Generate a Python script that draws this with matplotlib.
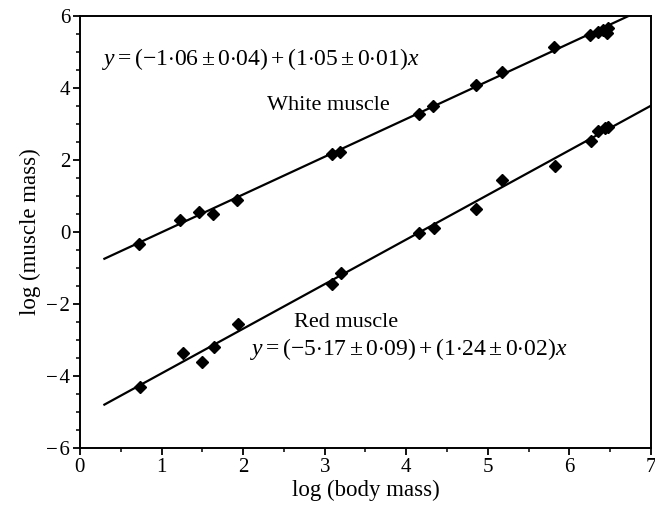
import matplotlib
matplotlib.use("Agg")
import matplotlib.pyplot as plt
import numpy as np

plt.rcParams['font.family'] = ['Liberation Serif', 'DejaVu Serif']
plt.rcParams['mathtext.fontset'] = 'custom'
plt.rcParams['mathtext.rm'] = 'Liberation Serif'
plt.rcParams['mathtext.it'] = 'Liberation Serif:italic'

# white muscle points (log body mass, log muscle mass)
white_x = [0.72, 1.23, 1.46, 1.63, 1.92, 3.09, 3.19, 4.15, 4.33, 4.85, 5.17, 5.81, 6.25, 6.35, 6.41, 6.47, 6.46]
white_y = [-0.33, 0.33, 0.56, 0.50, 0.89, 2.17, 2.22, 3.28, 3.50, 4.08, 4.44, 5.14, 5.47, 5.56, 5.61, 5.67, 5.53]

# red muscle points
red_x = [0.74, 1.26, 1.50, 1.64, 1.94, 3.09, 3.20, 4.15, 4.34, 4.85, 5.17, 5.82, 6.26, 6.35, 6.43, 6.47]
red_y = [-4.30, -3.36, -3.61, -3.19, -2.56, -1.44, -1.14, -0.03, 0.11, 0.64, 1.44, 1.83, 2.53, 2.81, 2.89, 2.92]

# regression lines: intercept, slope
white_fit = (-1.06, 1.05)
red_fit = (-5.17, 1.24)
fit_x = [0.3, 7.0]

fig = plt.figure(figsize=(6.55, 5.16), dpi=100)
ax = fig.add_axes([0.122, 0.132, 0.872, 0.837])

for (a, b) in (white_fit, red_fit):
    xs = np.array(fit_x)
    ax.plot(xs, a + b * xs, color='black', lw=1.6)

ax.plot(white_x, white_y, 'D', color='black', ms=6.2)
ax.plot(red_x, red_y, 'D', color='black', ms=6.2)

ax.set_xlim(0, 7)
ax.set_ylim(-6, 6)
ax.set_xticks(range(0, 8))
ax.set_xticks(np.arange(0.5, 7, 1.0), minor=True)
ax.set_yticks(range(-6, 7, 2))
ax.set_yticks(np.arange(-5.5, 6, 0.5), minor=True)
ax.tick_params(which='major', direction='out', length=5, width=1.3, labelsize=15, pad=2)
ax.tick_params(which='minor', direction='out', length=3, width=1.1)
ax.set_yticklabels(['\u2212\u200a6', '\u2212\u200a4', '\u2212\u200a2', '0', '2', '4', '6'])
for s in ax.spines.values():
    s.set_linewidth(1.4)

ax.set_xlabel('log (body mass)', fontsize=16.5, labelpad=2)
ax.set_ylabel('log (muscle mass)', fontsize=16.5, labelpad=4)

lab_kw = dict(fontsize=16, va='baseline', ha='left')
eq_kw = dict(fontsize=17, va='baseline', ha='left')
ax.text(0.27, 4.64, r'$y = (-1{\cdot}06 \pm 0{\cdot}04) + (1{\cdot}05 \pm 0{\cdot}01)x$', **eq_kw)
ax.text(2.29, 3.39, 'White muscle', **lab_kw)
ax.text(2.62, -2.64, 'Red muscle', **lab_kw)
ax.text(2.08, -3.42, r'$y = (-5{\cdot}17 \pm 0{\cdot}09) + (1{\cdot}24 \pm 0{\cdot}02)x$', **eq_kw)

fig.savefig('out.png', dpi=100)
